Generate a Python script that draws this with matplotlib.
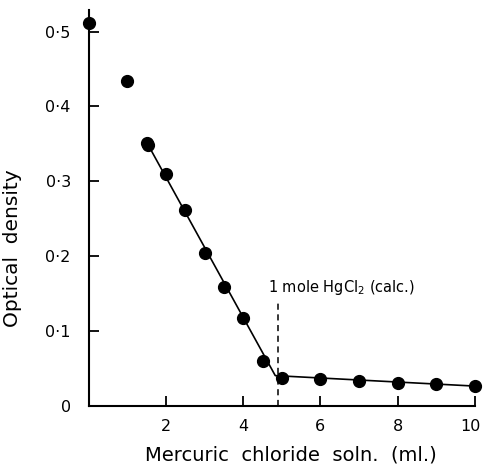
import numpy as np
import matplotlib
matplotlib.use("Agg")
import matplotlib.pyplot as plt
import matplotlib.transforms as mtransforms

# measured points (ml of HgCl2 solution vs optical density)
hg_ml  = [0.0, 1.0, 1.5, 1.52, 2.0, 2.5, 3.0, 3.5, 4.0, 4.5, 5.0, 6.0, 7.0, 8.0, 9.0, 10.0]
od     = [0.512, 0.434, 0.351, 0.348, 0.310, 0.262, 0.204, 0.159, 0.117, 0.060,
          0.037, 0.035, 0.033, 0.030, 0.029, 0.026]

# hand drawn fit through the titration points
fit_ml = [1.5, 4.83, 10.0]
fit_od = [0.352, 0.040, 0.026]

# calculated equivalence point
equiv_ml  = 4.9
equiv_top = 0.137

xticks = [2, 4, 6, 8, 10]
yticks = [0, 0.1, 0.2, 0.3, 0.4, 0.5]
ylabels = ["0", "0·1", "0·2", "0·3", "0·4", "0·5"]

plt.rcParams['font.family'] = ['DejaVu Sans']

fig = plt.figure(figsize=(4.83, 4.68), dpi=100)
ax = fig.add_axes([0.184, 0.1335, 0.799, 0.845])

ax.plot(fit_ml, fit_od, color="black", linewidth=1.2, zorder=2)
ax.plot(hg_ml, od, "o", color="black", markersize=8.5, zorder=3, clip_on=False)
ax.plot([equiv_ml, equiv_ml], [0, equiv_top], color="black", linestyle=(0, (4, 3)),
        linewidth=1.1, zorder=1)
ax.text(equiv_ml - 0.25, equiv_top + 0.008, "1 mole HgCl$_2$ (calc.)", fontsize=10.5,
        ha="left", va="bottom")

ax.set_xlim(0, 10)
ax.set_ylim(0, 0.529)
ax.set_xticks(xticks)
ax.set_xticklabels([str(t) for t in xticks])
ax.set_yticks(yticks)
ax.set_yticklabels(ylabels)
ax.tick_params(direction="in", length=7, width=1.3, labelsize=11.5, pad=10)
ax.tick_params(axis="y", pad=13)

# last x label sits right on the figure edge, nudge it in a little
last = ax.get_xticklabels()[-1]
last.set_transform(last.get_transform() + mtransforms.ScaledTranslation(-4 / 100, 0, fig.dpi_scale_trans))

for side in ["top", "right"]:
    ax.spines[side].set_visible(False)
for side in ["left", "bottom"]:
    ax.spines[side].set_linewidth(1.5)

ax.set_xlabel("Mercuric  chloride  soln.  (ml.)", fontsize=14)
ax.set_ylabel("Optical  density", fontsize=14.5)
ax.xaxis.set_label_coords(0.523, -0.125)
ax.xaxis.label.set_va("center")
ax.yaxis.set_label_coords(-0.197, 0.398)
ax.yaxis.label.set_va("center")

fig.savefig("out.png", dpi=100)
